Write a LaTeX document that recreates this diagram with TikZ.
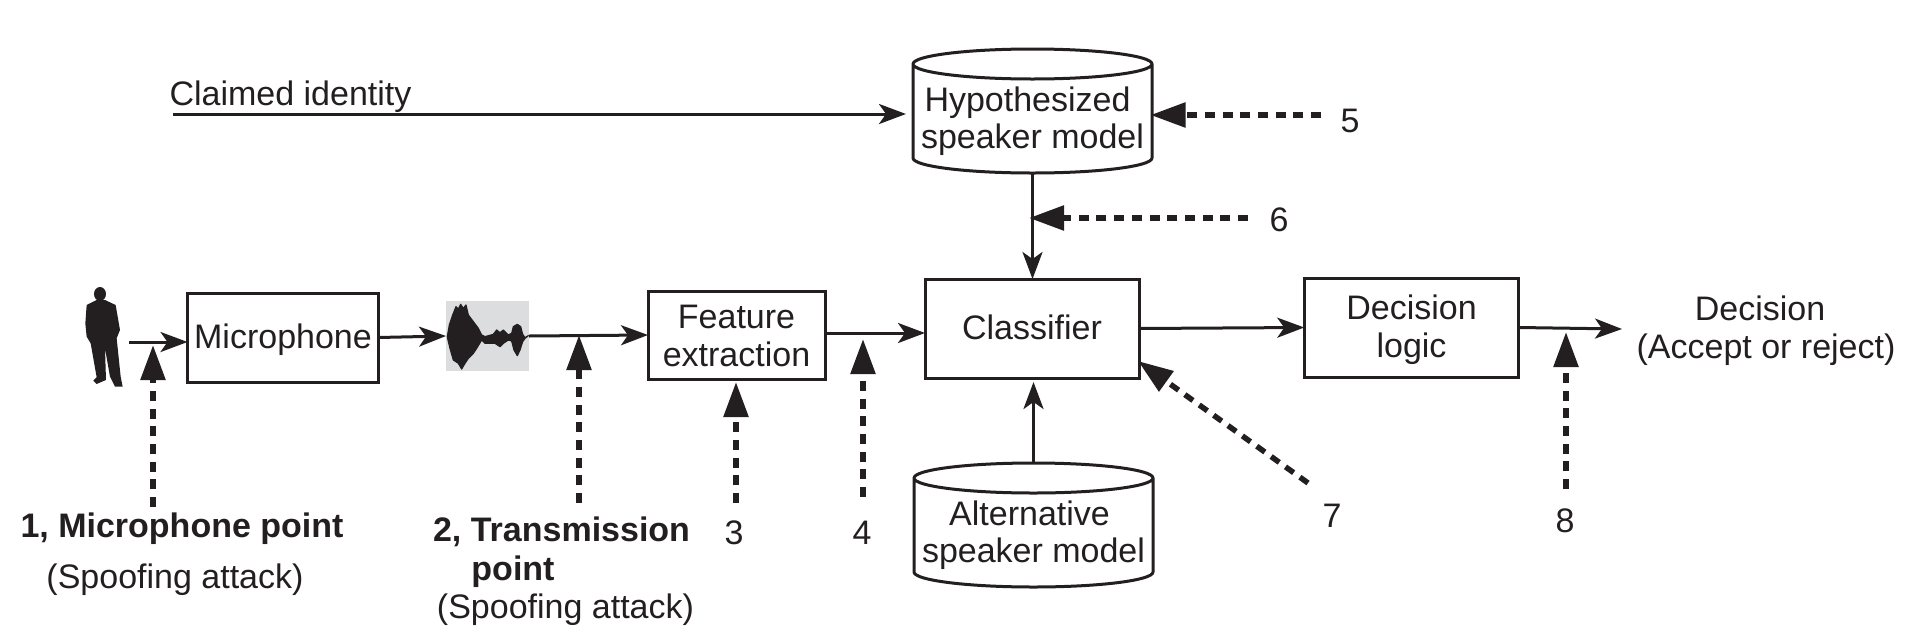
\documentclass[tikz,border=0pt]{standalone}
\usepackage{fontspec}
\setmainfont{Liberation Sans}
\usetikzlibrary{arrows.meta,calc}
\definecolor{ink}{HTML}{231F20}
\definecolor{wavebg}{HTML}{DCDDDE}
\newcommand{\boxtxt}[3]{\raisebox{-#1pt}[0pt][0pt]{\vbox{\baselineskip=#2pt\lineskiplimit=-1000pt\lineskip=0pt\halign{\hfil##\hfil\cr#3\cr}}}}
\newcommand{\cylbody}[1]{%
  \draw[cylline] ([yshift=-15pt]#1.north west) -- ([yshift=15pt]#1.south west)
    arc[start angle=180,end angle=360,x radius=119.5pt,y radius=15pt]
    -- ([yshift=-15pt]#1.north east)
    arc[start angle=0,end angle=180,x radius=119.5pt,y radius=15pt]
    arc[start angle=180,end angle=360,x radius=119.5pt,y radius=15pt];}
\tikzset{
  every node/.style={inner sep=0pt,outer sep=0pt,text=ink,font=\fontsize{34}{37}\selectfont},
  blockbox/.style={draw=ink,line width=3pt,rectangle},
  cylslot/.style={rectangle,minimum width=239pt,minimum height=124pt},
  cylline/.style={draw=ink,line width=3pt,line join=round},
  lbl/.style={anchor=base},
  lblb/.style={anchor=base,font=\fontsize{34}{37}\selectfont\bfseries},
  flow/.style={draw=ink,line width=3pt,-{Stealth[length=27pt,width=20pt,inset=7pt,color=ink]}},
  attack/.style={draw=ink,line width=5.5pt,dash pattern=on 10pt off 7.7pt,-{Triangle[length=35pt,width=24pt,color=ink]}}
}
\begin{document}
\begin{tikzpicture}[x=1pt,y=-1pt]
\useasboundingbox (0,0) rectangle (1924,643);

% person silhouette
\begin{scope}[shift={(70,280)},x=0.3333pt,y=-0.3333pt]
  \fill[ink] (90,42) ellipse[x radius=6pt,y radius=7pt];
  \fill[ink] (80,60) -- (50,75) -- (46,130) -- (50,170) -- (62,190) -- (80,292) -- (70,302) -- (80,312)
    -- (108,300) -- (105,205) -- (120,290) -- (135,320) -- (158,320) -- (152,290) -- (140,175) -- (150,150)
    -- (137,75) -- (105,60) -- cycle;
\end{scope}

% blocks
\node[blockbox,minimum width=191pt,minimum height=89pt] (mic) at (283,337.5) {\boxtxt{10.5}{37}{Microphone}};
\node[fill=wavebg,minimum width=83pt,minimum height=70pt] (wave) at (487.5,336) {};
\begin{scope}[shift={(440,295)},x=0.3333pt,y=-0.3333pt]
  \filldraw[ink,line width=1.2pt,line join=round] (22,125) -- (28,90) -- (38,60) -- (48,35) -- (55,42) -- (62,28) -- (70,40) -- (78,30) -- (85,60)
   -- (100,80) -- (115,100) -- (125,120) -- (135,125) -- (160,118) -- (170,105) -- (180,113) -- (190,105)
   -- (205,120) -- (215,115) -- (220,95) -- (232,88) -- (242,95) -- (248,118) -- (255,128) -- (265,122)
   -- (255,130) -- (248,140) -- (240,165) -- (232,182) -- (222,165) -- (215,138) -- (205,135) -- (190,145)
   -- (180,155) -- (165,145) -- (135,145) -- (125,135) -- (110,160) -- (100,175) -- (85,190) -- (75,205)
   -- (65,222) -- (55,205) -- (40,195) -- (30,160) -- (24,135) -- cycle;
\end{scope}
\node[blockbox,minimum width=177pt,minimum height=88pt] (feat) at (736.5,335) {\boxtxt{31}{38}{Feature\cr extraction}};
\node[blockbox,minimum width=214pt,minimum height=99pt] (clf) at (1032,328.5) {\boxtxt{11}{37}{Classifier}};
\node[blockbox,minimum width=214.5pt,minimum height=99pt] (dec) at (1411.5,327.5) {\boxtxt{29.5}{38}{Decision\cr logic}};
\node[cylslot] (hm) at (1032.5,111) {\boxtxt{37}{37}{Hypothesized\kern10pt\cr speaker model}};
\cylbody{hm}
\node[cylslot] (am) at (1033.5,525) {\boxtxt{37}{37}{Alternative\kern8pt\cr speaker model}};
\cylbody{am}

% texts
\node[lbl] (claimed) at (290.5,105) {Claimed identity};
\node[lblb] (t1) at (182,537) {1, Microphone point};
\node[lbl] (s1) at (175,588) {(Spoofing attack)};
\node[lblb] (t2) at (561.5,541) {2, Transmission};
\node[lblb] (t2b) at (513,580) {point};
\node[lbl] (s2) at (565.5,618) {(Spoofing attack)};
\node[lbl] (n3) at (734,544) {3};
\node[lbl] (n4) at (862,544) {4};
\node[lbl] (n5) at (1350,132) {5};
\node[lbl] (n6) at (1279,231) {6};
\node[lbl] (n7) at (1332,527) {7};
\node[lbl] (n8) at (1565,532) {8};
\node[lbl] (d1) at (1760,320) {Decision};
\node[lbl] (d2) at (1766,358) {(Accept or reject)};

% free ends
\coordinate (pstart) at (129,342);
\coordinate (claimstart) at (173,114);
\coordinate (feaout) at (827,333);
\coordinate (decout) at (1622,329);
\coordinate (a1s) at (153,507); \coordinate (a1t) at (153,345);
\coordinate (a2s) at (579,503); \coordinate (a2t) at (579,335);
\coordinate (a3s) at (736,503); \coordinate (a3t) at (736,382);
\coordinate (a4s) at (863,497); \coordinate (a4t) at (863,339);
\coordinate (a5s) at (1321,115);
\coordinate (a6s) at (1248,218);
\coordinate (a7s) at (1308,483); \coordinate (a7t) at (1138,361);
\coordinate (a8s) at (1566,489); \coordinate (a8t) at (1566,332);

% signal flow
\draw[flow] (pstart) -- (mic.west |- pstart);
\draw[flow] (mic.east) -- (wave.west);
\draw[flow] (wave.east) -- (feat.west);
\draw[flow] (feaout) -- (clf.west |- feaout);
\draw[flow] (clf.east) -- (dec.west);
\draw[flow] (dec.east) -- (decout);
\draw[flow,shorten >=7pt] (claimstart) -- (hm.west |- claimstart);
\draw[flow] (hm.south) -- (clf.north -| hm.south);
\draw[flow,shorten >=4pt] (am.north) -- (clf.south -| am.north);

% attacks
\draw[attack] (a1s) -- (a1t);
\draw[attack] (a2s) -- (a2t);
\draw[attack] (a3s) -- (a3t);
\draw[attack] (a4s) -- (a4t);
\draw[attack,shorten >=-1.5pt] (a5s) -- (hm.east |- a5s);
\draw[attack,shorten >=-3.5pt] (a6s) -- (hm.south |- a6s);
\draw[attack] (a7s) -- (a7t);
\draw[attack] (a8s) -- (a8t);
\end{tikzpicture}
\end{document}
